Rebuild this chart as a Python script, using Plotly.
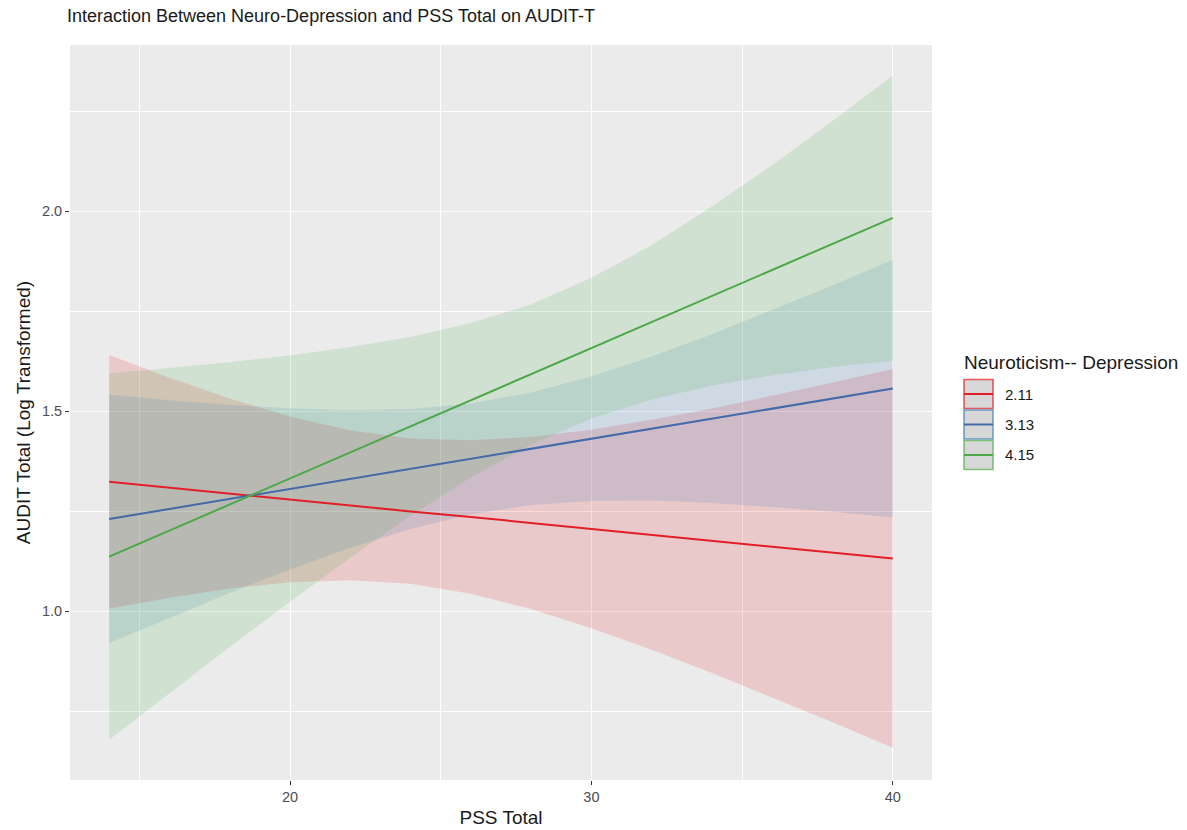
import plotly.graph_objects as go

# ---------------- data ----------------
pss_total = [14, 16, 18, 20, 22, 24, 26, 28, 30, 32, 34, 36, 38, 40]

groups = ["2.11", "3.13", "4.15"]

fit_211 = [1.323, 1.308, 1.294, 1.279, 1.264, 1.249, 1.235, 1.220, 1.205, 1.190, 1.176, 1.161, 1.146, 1.131]
upper_211 = [1.640, 1.583, 1.531, 1.486, 1.451, 1.431, 1.427, 1.435, 1.453, 1.478, 1.506, 1.538, 1.571, 1.605]
lower_211 = [1.006, 1.033, 1.056, 1.072, 1.077, 1.068, 1.043, 1.005, 0.957, 0.903, 0.845, 0.784, 0.722, 0.658]

fit_313 = [1.230, 1.255, 1.280, 1.305, 1.330, 1.355, 1.381, 1.406, 1.431, 1.456, 1.481, 1.506, 1.531, 1.556]
upper_313 = [1.541, 1.527, 1.515, 1.507, 1.502, 1.505, 1.519, 1.546, 1.586, 1.636, 1.692, 1.752, 1.814, 1.878]
lower_313 = [0.920, 0.983, 1.045, 1.104, 1.158, 1.205, 1.242, 1.265, 1.275, 1.276, 1.270, 1.260, 1.248, 1.234]

fit_415 = [1.136, 1.201, 1.266, 1.331, 1.397, 1.462, 1.527, 1.592, 1.657, 1.722, 1.787, 1.852, 1.917, 1.983]
upper_415 = [1.594, 1.608, 1.622, 1.639, 1.660, 1.685, 1.720, 1.767, 1.833, 1.915, 2.011, 2.115, 2.225, 2.339]
lower_415 = [0.678, 0.795, 0.910, 1.023, 1.133, 1.238, 1.334, 1.416, 1.482, 1.529, 1.564, 1.589, 1.610, 1.626]

x_ticks = [20, 30, 40]
y_ticks = [1.0, 1.5, 2.0]
y_tick_labels = ["1.0", "1.5", "2.0"]

# ---------------- styling ----------------
ribbon_colors = {"2.11": (228, 26, 28), "3.13": (55, 126, 184), "4.15": (77, 175, 74)}
line_colors = {"2.11": "rgb(226,30,38)", "3.13": "rgb(66,106,170)", "4.15": "rgb(76,168,72)"}
ribbon_alpha = 0.16
FONT = "Liberation Sans, Arial, Helvetica, sans-serif"

series = {
    "2.11": (fit_211, lower_211, upper_211),
    "3.13": (fit_313, lower_313, upper_313),
    "4.15": (fit_415, lower_415, upper_415),
}

fig = go.Figure()

# ribbons
for g in groups:
    fit, lo, up = series[g]
    r, gg, b = ribbon_colors[g]
    fig.add_trace(go.Scatter(x=pss_total, y=up, mode="lines", line=dict(width=0),
                             showlegend=False, hoverinfo="skip"))
    fig.add_trace(go.Scatter(x=pss_total, y=lo, mode="lines", line=dict(width=0),
                             fill="tonexty",
                             fillcolor=f"rgba({r},{gg},{b},{ribbon_alpha})",
                             showlegend=False, hoverinfo="skip"))

# fitted lines
for g in groups:
    fit, lo, up = series[g]
    fig.add_trace(go.Scatter(x=pss_total, y=fit, mode="lines",
                             line=dict(color=line_colors[g], width=2),
                             name=g, showlegend=False))

# ---------------- layout ----------------
W, H = 1187, 830
L, R, T, B = 70, W - 932, 45, 50
pw = W - L - R
ph = H - T - B


def px_x(px):
    return (px - L) / pw


def px_y(py):
    return (H - B - py) / ph


shapes = []
annotations = []

# custom legend mimicking ggplot keys
key_x0, key_x1 = 964, 993
key_rows = [(379.5, 408.5), (410.0, 439.0), (440.5, 469.5)]
for g, (y0, y1) in zip(groups, key_rows):
    r, gg, b = ribbon_colors[g]
    shapes.append(dict(type="rect", xref="paper", yref="paper",
                       x0=px_x(key_x0), x1=px_x(key_x1), y0=px_y(y1), y1=px_y(y0),
                       fillcolor="#d7d7d7",
                       line=dict(color=f"rgba({r},{gg},{b},0.7)", width=1.6)))
    ym = (y0 + y1) / 2
    shapes.append(dict(type="line", xref="paper", yref="paper",
                       x0=px_x(key_x0), x1=px_x(key_x1), y0=px_y(ym), y1=px_y(ym),
                       line=dict(color=line_colors[g], width=2)))
    annotations.append(dict(xref="paper", yref="paper", x=px_x(1003), y=px_y(ym),
                            text=g, showarrow=False, xanchor="left", yanchor="middle",
                            font=dict(family=FONT, size=15, color="#1a1a1a")))

annotations.append(dict(xref="paper", yref="paper", x=px_x(962), y=px_y(362),
                        text="Neuroticism-- Depression", showarrow=False,
                        xanchor="left", yanchor="middle",
                        font=dict(family=FONT, size=19, color="#1a1a1a")))

fig.update_layout(
    width=W, height=H,
    margin=dict(l=L, r=R, t=T, b=B, pad=0, autoexpand=False),
    paper_bgcolor="white",
    plot_bgcolor="#EBEBEB",
    font=dict(family=FONT),
    title=dict(text="Interaction Between Neuro-Depression and PSS Total on AUDIT-T",
               x=67 / W, xanchor="left", xref="container",
               y=1 - 16 / H, yanchor="middle", yref="container",
               font=dict(family=FONT, size=18, color="#1a1a1a")),
    shapes=shapes,
    annotations=annotations,
    showlegend=False,
)

fig.update_xaxes(
    range=[12.7, 41.3],
    tickmode="array", tickvals=x_ticks, ticktext=[str(v) for v in x_ticks],
    ticks="outside", ticklen=4, tickwidth=1.1, tickcolor="#333333",
    tickfont=dict(family=FONT, size=14.5, color="#4d4d4d"),
    showgrid=True, gridcolor="white", gridwidth=1.3,
    minor=dict(tickmode="array", tickvals=[15, 25, 35], showgrid=True,
               gridcolor="white", gridwidth=0.6, ticklen=0),
    zeroline=False, showline=False, automargin=False,
    title=dict(text="PSS Total", standoff=6,
               font=dict(family=FONT, size=19, color="#1a1a1a")),
)
fig.update_yaxes(
    range=[0.5775, 2.415],
    tickmode="array", tickvals=y_ticks, ticktext=y_tick_labels,
    ticks="outside", ticklen=4, tickwidth=1.1, tickcolor="#333333",
    tickfont=dict(family=FONT, size=14.5, color="#4d4d4d"),
    showgrid=True, gridcolor="white", gridwidth=1.3,
    minor=dict(tickmode="array", tickvals=[0.75, 1.25, 1.75, 2.25], showgrid=True,
               gridcolor="white", gridwidth=0.6, ticklen=0),
    zeroline=False, showline=False, automargin=False,
    title=dict(text="AUDIT Total (Log Transformed)", standoff=6,
               font=dict(family=FONT, size=19, color="#1a1a1a")),
)

fig.write_html("out.html", config={"displayModeBar": False},
               post_script="document.body.style.margin='0px';")
